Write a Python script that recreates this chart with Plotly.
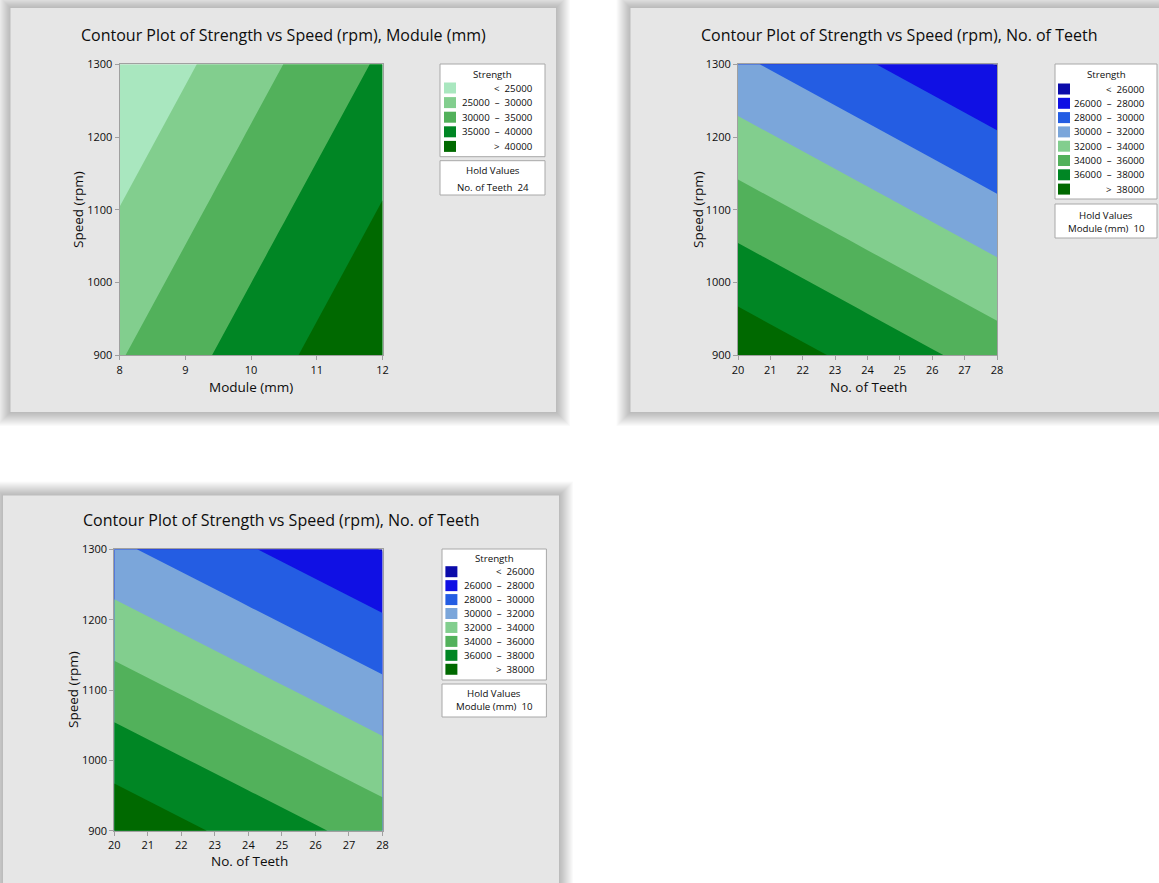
import plotly.graph_objects as go

W, H = 1159, 883

# ---------------- data ----------------
# Panel 1: Strength vs Speed (rpm) and Module (mm); hold No. of Teeth = 24
module_mm = [8, 10, 12]
speed_rpm = [900, 1100, 1300]
strength_by_module = [  # rows follow speed_rpm, columns follow module_mm
    [29658, 37258, 44858],
    [25098, 32698, 40298],
    [20538, 28138, 35738],
]
levels_module = [25000, 30000, 35000, 40000]
colors_module = ["#A9E7BF", "#82CE8E", "#52B15B", "#008624", "#006900"]
hold_teeth = 24

# Panels 2 and 3: Strength vs Speed (rpm) and No. of Teeth; hold Module (mm) = 10
teeth = [20, 24, 28]
strength_by_teeth = [  # rows follow speed_rpm, columns follow teeth
    [39534, 37310, 35086],
    [34954, 32730, 30506],
    [30374, 28150, 25926],
]
levels_teeth = [26000, 28000, 30000, 32000, 34000, 36000, 38000]
colors_teeth = ["#0B0BAA", "#1010E4", "#245DE3", "#7BA6DA",
                "#82CE8E", "#52B15B", "#008624", "#006900"]
hold_module = 10

module_ticks = [8, 9, 10, 11, 12]
teeth_ticks = [20, 21, 22, 23, 24, 25, 26, 27, 28]
speed_ticks = [900, 1000, 1100, 1200, 1300]

FONT = "Open Sans"
TXT = "#0d0d0d"
BORDER = "#A0A0A0"


def px(x):
    return x / W


def py(y):
    return 1 - y / H


def stepped(colors):
    n = len(colors)
    cs = []
    for i, c in enumerate(colors):
        cs.append([i / n, c])
        cs.append([(i + 1) / n, c])
    return cs


def fnt(size):
    return dict(family=FONT, size=size, color=TXT, weight=500)


fig = go.Figure()
shapes = []
annotations = []


def add_panel(x0, y0, x1, y1):
    for k in range(14, 0, -1):
        shapes.append(dict(type="rect", xref="paper", yref="paper", layer="below",
                           x0=px(x0 - k), x1=px(x1 + k), y0=py(y1 + k), y1=py(y0 - k),
                           fillcolor="rgba(0,0,0,0.018)", line=dict(width=0)))
    shapes.append(dict(type="rect", xref="paper", yref="paper", layer="below",
                       x0=px(x0), x1=px(x1), y0=py(y1), y1=py(y0),
                       fillcolor="#E6E6E6", line=dict(width=0)))


def add_contour(idx, x, z, levels, colors, xticks, plot_box, title, title_xy,
                xtitle, xtitle_xy, ytitle_xy):
    xa = "x" if idx == 1 else f"x{idx}"
    ya = "y" if idx == 1 else f"y{idx}"
    fig.add_trace(go.Contour(
        x=x, y=speed_rpm, z=z, xaxis=xa, yaxis=ya,
        autocontour=False,
        contours=dict(start=levels[0], end=levels[-1], size=levels[1] - levels[0],
                      coloring="fill", showlines=False),
        colorscale=stepped(colors), showscale=False, line=dict(width=0),
        hoverinfo="skip"))
    x0, y0, x1, y1 = plot_box
    axcommon = dict(showgrid=False, zeroline=False, showline=True, mirror=True,
                    automargin=False,
                    linecolor=BORDER, linewidth=1, ticks="outside", ticklen=4,
                    tickcolor=BORDER, tickfont=fnt(11))
    fig.update_layout(**{
        ("xaxis" if idx == 1 else f"xaxis{idx}"): dict(
            domain=[px(x0), px(x1)], range=[x[0], x[-1]], tickvals=xticks,
            anchor=ya, **axcommon),
        ("yaxis" if idx == 1 else f"yaxis{idx}"): dict(
            domain=[py(y1), py(y0)], range=[speed_rpm[0], speed_rpm[-1]],
            tickvals=speed_ticks, anchor=xa, **axcommon),
    })
    annotations.append(dict(text=title, x=px(title_xy[0]), y=py(title_xy[1]),
                            xref="paper", yref="paper", showarrow=False,
                            xanchor="center", yanchor="middle", font=fnt(16)))
    annotations.append(dict(text=xtitle, x=px(xtitle_xy[0]), y=py(xtitle_xy[1]),
                            xref="paper", yref="paper", showarrow=False,
                            xanchor="center", yanchor="middle", font=fnt(13.5)))
    annotations.append(dict(text="Speed (rpm)", x=px(ytitle_xy[0]), y=py(ytitle_xy[1]),
                            xref="paper", yref="paper", showarrow=False, textangle=-90,
                            xanchor="center", yanchor="middle", font=fnt(13.5)))


def add_legend(levels, colors, box, title_y, row0, step, sw_x0, lab_x,
               hold_box, hold_name, hold_val, hold_y):
    bx0, by0, bx1, by1 = box
    shapes.append(dict(type="rect", xref="paper", yref="paper", layer="above",
                       x0=px(bx0), x1=px(bx1), y0=py(by1), y1=py(by0),
                       fillcolor="white", line=dict(color="#A8A8A8", width=1)))
    cx = (bx0 + bx1) / 2
    annotations.append(dict(text="Strength", x=px(cx), y=py(title_y), xref="paper",
                            yref="paper", showarrow=False, xanchor="center",
                            yanchor="middle", font=fnt(9.7)))
    nb = "\u00a0"
    labels = ["<" + nb * 2 + str(levels[0])]
    for a, b in zip(levels[:-1], levels[1:]):
        labels.append(f"{a}{nb * 2}\u2013{nb * 2}{b}")
    labels.append(">" + nb * 2 + str(levels[-1]))
    for i, (lab, col) in enumerate(zip(labels, colors)):
        yc = row0 + i * step
        shapes.append(dict(type="rect", xref="paper", yref="paper", layer="above",
                           x0=px(sw_x0), x1=px(sw_x0 + 12), y0=py(yc + 5.5), y1=py(yc - 5.5),
                           fillcolor=col, line=dict(width=0)))
        annotations.append(dict(text=lab, x=px(lab_x), y=py(yc), xref="paper",
                                yref="paper", showarrow=False, xanchor="right",
                                yanchor="middle", font=fnt(9.7)))
    hx0, hy0, hx1, hy1 = hold_box
    shapes.append(dict(type="rect", xref="paper", yref="paper", layer="above",
                       x0=px(hx0), x1=px(hx1), y0=py(hy1), y1=py(hy0),
                       fillcolor="white", line=dict(color="#A8A8A8", width=1)))
    hc = (hx0 + hx1) / 2
    annotations.append(dict(text="Hold Values", x=px(hc), y=py(hold_y[0]), xref="paper",
                            yref="paper", showarrow=False, xanchor="center",
                            yanchor="middle", font=fnt(9.7)))
    annotations.append(dict(text=f"{hold_name}{nb * 2}{hold_val}", x=px(hc), y=py(hold_y[1]),
                            xref="paper", yref="paper", showarrow=False, xanchor="center",
                            yanchor="middle", font=fnt(9.7)))


# panel backgrounds
add_panel(10.5, 8, 556, 412)
add_panel(630.5, 8, 1175, 412)
add_panel(3, 495.5, 559, 900)

add_contour(1, module_mm, strength_by_module, levels_module, colors_module, module_ticks,
            (119.6, 64.3, 382.5, 355.3),
            "Contour Plot of Strength vs Speed (rpm), Module (mm)", (283, 35),
            "Module (mm)", (251, 387), (78, 210))
add_contour(2, teeth, strength_by_teeth, levels_teeth, colors_teeth, teeth_ticks,
            (738, 64.3, 997, 355.3),
            "Contour Plot of Strength vs Speed (rpm), No. of Teeth", (899, 35),
            "No. of Teeth", (868, 387), (698, 210))
add_contour(3, teeth, strength_by_teeth, levels_teeth, colors_teeth, teeth_ticks,
            (114.3, 549.3, 382.5, 830.7),
            "Contour Plot of Strength vs Speed (rpm), No. of Teeth", (281, 520),
            "No. of Teeth", (249, 861), (73, 690))

add_legend(levels_module, colors_module, (440, 64, 545, 156.7), 75, 88, 14.6, 444, 535,
           (440, 160.7, 545, 195), "No. of Teeth", hold_teeth, (170.5, 187.5))
add_legend(levels_teeth, colors_teeth, (1055, 64, 1157, 199), 74.7, 89, 14.3, 1058, 1147,
           (1055, 204, 1157, 238), "Module (mm)", hold_module, (215, 228.5))
add_legend(levels_teeth, colors_teeth, (442, 549, 546.4, 680), 558.7, 571.7, 13.94, 445.4, 536.8,
           (442, 684, 546.4, 717), "Module (mm)", hold_module, (693.7, 706.7))

fig.update_layout(width=W, height=H, margin=dict(l=0, r=0, t=0, b=0, pad=0),
                  paper_bgcolor="white", plot_bgcolor="rgba(0,0,0,0)",
                  showlegend=False, shapes=shapes, annotations=annotations,
                  font=dict(family=FONT, color=TXT))

fig.write_html("out.html", config={"displayModeBar": False},
               post_script="document.body.style.margin='0px';"
                           "document.body.style.overflow='hidden';")
